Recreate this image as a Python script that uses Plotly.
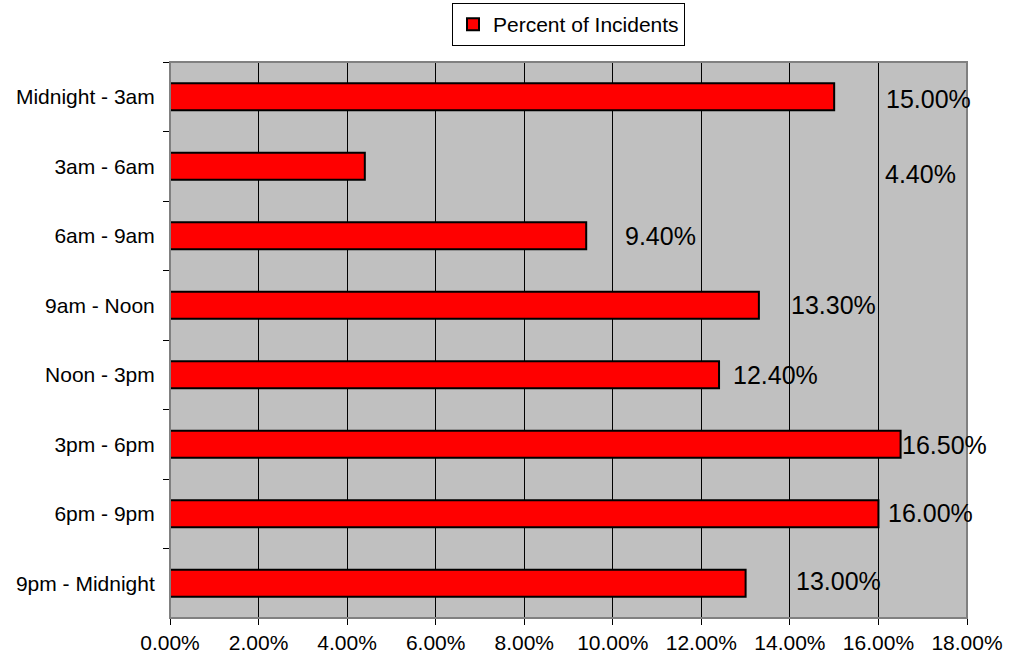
import plotly.graph_objects as go

categories = ["Midnight - 3am", "3am - 6am", "6am - 9am", "9am - Noon",
              "Noon - 3pm", "3pm - 6pm", "6pm - 9pm", "9pm - Midnight"]
percent_values = [15.0, 4.4, 9.4, 13.3, 12.4, 16.5, 16.0, 13.0]
series_name = "Percent of Incidents"
x_tick_values = [0, 2, 4, 6, 8, 10, 12, 14, 16, 18]
x_tick_labels = ["0.00%", "2.00%", "4.00%", "6.00%", "8.00%", "10.00%",
                 "12.00%", "14.00%", "16.00%", "18.00%"]

# label placement (Excel-style floating data labels)
label_x_positions = [17.13, 16.95, 11.07, 14.98, 13.67, 17.49, 17.17, 15.1]
label_y_shifts = [-2, -8, 0, 0, 0, -1, 1, 2]

FONT = "Liberation Sans, Arial, sans-serif"

fig = go.Figure()
fig.add_trace(go.Bar(
    y=categories, x=percent_values, orientation="h", name=series_name,
    marker=dict(color="#FF0000", line=dict(color="black", width=2)),
    showlegend=True,
))

for cat, val, lx, ys in zip(categories, percent_values, label_x_positions, label_y_shifts):
    fig.add_annotation(x=lx, y=cat, text=f"{val:.2f}%", showarrow=False,
                       xanchor="center", yanchor="middle", yshift=ys,
                       font=dict(family=FONT, size=25, color="black"))

# gray plot-area border (top/right)
fig.add_shape(type="rect", xref="x domain", yref="y domain", x0=0, x1=1, y0=0, y1=1,
              line=dict(color="#808080", width=2), layer="above")

fig.update_layout(
    width=1010, height=660,
    margin=dict(l=170, r=43, t=62, b=42, autoexpand=False),
    paper_bgcolor="white", plot_bgcolor="#C0C0C0",
    bargap=0.61,
    font=dict(family=FONT, size=21, color="black"),
    legend=dict(orientation="h", x=0.5, xanchor="center",
                yref="container", y=1 - 3 / 660, yanchor="top",
                bordercolor="black", borderwidth=1, bgcolor="white",
                font=dict(family=FONT, size=21, color="black"),
                itemwidth=30),
    xaxis=dict(range=[0, 18], tickvals=x_tick_values, ticktext=x_tick_labels,
               showgrid=True, gridcolor="black", gridwidth=1,
               showline=True, linecolor="black", linewidth=1,
               ticks="outside", ticklen=6, tickcolor="black", zeroline=False,
               automargin=False,
               tickfont=dict(family=FONT, size=21, color="black")),
    yaxis=dict(autorange="reversed", showgrid=False, tickson="boundaries",
               showline=True, linecolor="black", linewidth=1,
               ticks="outside", ticklen=6, tickcolor="black",
               ticklabelstandoff=10, automargin=False,
               tickfont=dict(family=FONT, size=21, color="black")),
)

fig.write_html("out.html", config={"displayModeBar": False},
               post_script="document.body.style.margin='0';document.body.style.overflow='hidden';")
